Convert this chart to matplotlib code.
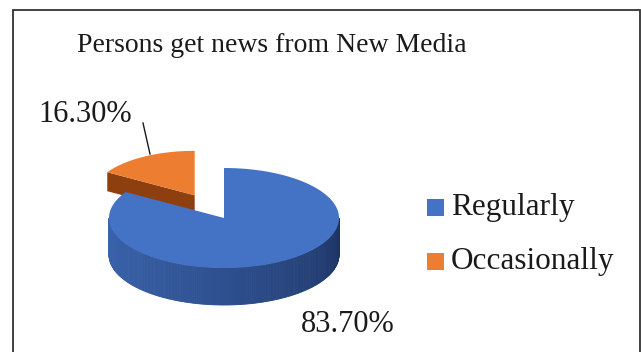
import matplotlib
matplotlib.use('Agg')
import matplotlib.pyplot as plt
import numpy as np
from matplotlib.patches import Polygon, Rectangle
from matplotlib.colors import to_rgb

TITLE = 'Persons get news from New Media'
CATEGORIES = ['Regularly', 'Occasionally']
SHARES = [83.7, 16.3]
LABELS = ['83.70%', '16.30%']

TOP_COLORS = ['#4472C4', '#ED7D31']
SIDE_LIGHT = ['#3A63AC', '#8E3F10']
SIDE_DARK = ['#1C3362', '#7A350C']

W, H = 641, 352

# pie layout in pixel units
CX, CY = 224, 218
RX, RY = 115, 50
DEPTH = 37
EXPLODE = 0.52
SHRINK = 0.89      # exploded slice sits farther back, so it looks smaller
THIN = 19


def rim(cx, cy, rx, ry, angles):
    rad = np.radians(angles)
    return np.column_stack([cx + rx * np.cos(rad), cy - ry * np.sin(rad)])


def blend(c1, c2, t):
    c1, c2 = np.array(to_rgb(c1)), np.array(to_rgb(c2))
    return tuple(c1 + (c2 - c1) * t)


def main():
    fig = plt.figure(figsize=(W / 100, H / 100), dpi=100)
    ax = fig.add_axes([0, 0, 1, 1])
    ax.set_xlim(0, W)
    ax.set_ylim(H, 0)
    ax.axis('off')
    plt.rcParams['font.family'] = ['Liberation Serif', 'DejaVu Serif']

    # slices go clockwise starting at 12 o'clock
    sweeps = np.array(SHARES) / sum(SHARES) * 360
    starts = 90 - np.concatenate([[0], np.cumsum(sweeps)[:-1]])
    ends = starts - sweeps

    # exploded slice (Occasionally), behind the main one
    s, e = starts[1] + 360, ends[1] + 360
    mid = np.radians((s + e) / 2)
    ox = CX + EXPLODE * RX * np.cos(mid)
    oy = CY - EXPLODE * RY * np.sin(mid)
    rx, ry = RX * SHRINK, RY * SHRINK
    p_out = rim(ox, oy, rx, ry, [s])[0]
    face = np.array([[ox, oy], p_out, p_out + [0, THIN], [ox, oy + THIN]])
    ax.add_patch(Polygon(face, closed=True, fc=SIDE_LIGHT[1], ec='none'))
    top = np.vstack([[ox, oy], rim(ox, oy, rx, ry, np.linspace(s, e, 80))])
    ax.add_patch(Polygon(top, closed=True, fc=TOP_COLORS[1], ec='none'))

    # main slice (Regularly): front wall shaded strip by strip
    angs = np.linspace(180, 360, 181)
    pts = rim(CX, CY, RX, RY, angs)
    for i in range(len(angs) - 1):
        t = (angs[i] - 180) / 180
        col = blend(SIDE_LIGHT[0], SIDE_DARK[0], t ** 1.3)
        quad = np.array([pts[i], pts[i + 1], pts[i + 1] + [0, DEPTH], pts[i] + [0, DEPTH]])
        ax.add_patch(Polygon(quad, closed=True, fc=col, ec=col, lw=0.6))
    s0, e0 = starts[0], ends[0]
    top = np.vstack([[CX, CY], rim(CX, CY, RX, RY, np.linspace(s0, e0, 300))])
    ax.add_patch(Polygon(top, closed=True, fc=TOP_COLORS[0], ec='none'))

    # value labels
    ax.text(348, 325, LABELS[0], fontsize=22, ha='center', va='center', color='#1a1a1a')
    ax.text(85, 114, LABELS[1], fontsize=22, ha='center', va='center', color='#1a1a1a')
    ax.plot([143, 150], [123, 154], color='#1a1a1a', lw=1)

    # legend
    for i, (name, col) in enumerate(zip(CATEGORIES, TOP_COLORS)):
        y = 207 + i * 54
        ax.add_patch(Rectangle((427, y - 8.5), 17, 17, fc=col, ec='none'))
        ax.text(451, y, name, fontsize=22.5, ha='left', va='center', color='#1a1a1a')

    ax.text(272, 45, TITLE, fontsize=20, ha='center', va='center', color='#1a1a1a')

    # chart border (bottom edge runs off the image)
    ax.plot([13, 13, 639.5, 639.5], [H + 5, 10, 10, H + 5], color='#333333', lw=1.3,
            solid_joinstyle='miter')

    fig.savefig('out.png', dpi=100)


if __name__ == '__main__':
    main()
